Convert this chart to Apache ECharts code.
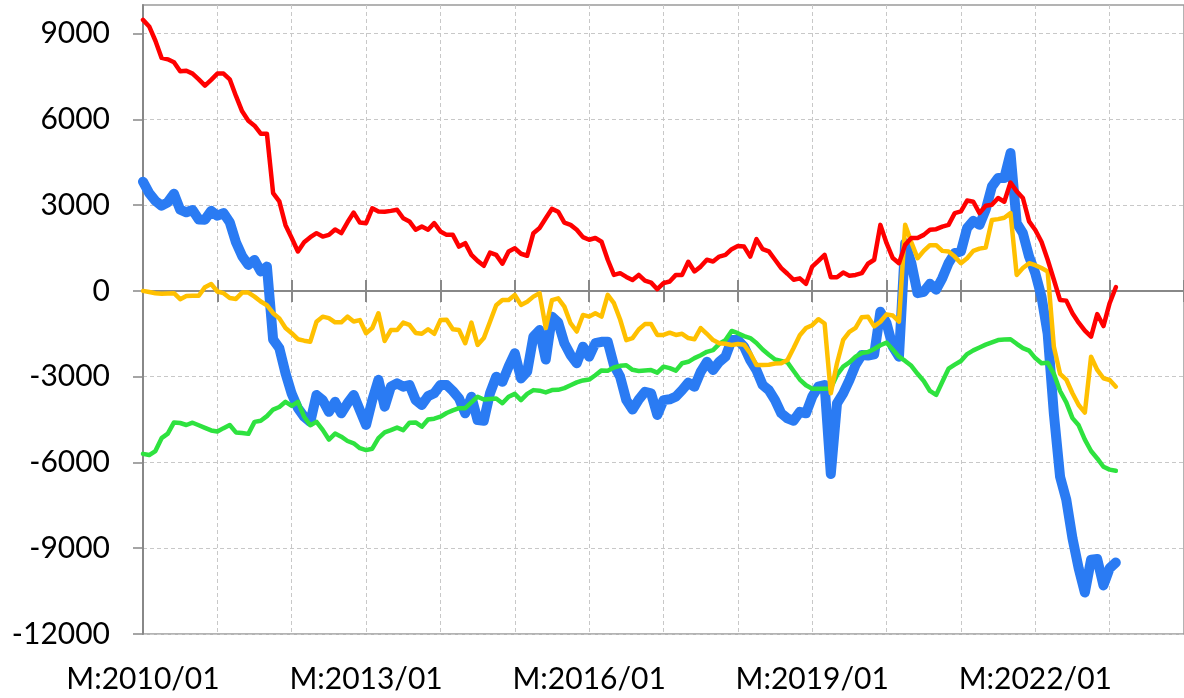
<!DOCTYPE html>
<html>
<head>
<meta charset="utf-8">
<script src="https://cdn.jsdelivr.net/npm/echarts@6/dist/echarts.min.js"></script>
<style>
  html, body { margin: 0; padding: 0; background: #fff; }
  #chart { width: 1184px; height: 698px; }
</style>
</head>
<body>
<div id="chart"></div>
<script>
// Monthly categories 2010/01 .. 2024/01
const startYear = 2010;
const endYear = 2024;
const months = [];
for (let y = startYear; y <= endYear; y++) {
  for (let m = 1; m <= 12; m++) {
    if (y === endYear && m > 1) break;
    months.push(y + '/' + String(m).padStart(2, '0'));
  }
}

// Value axis ticks
const yTicks = [-12000, -9000, -6000, -3000, 0, 3000, 6000, 9000];

// Series values, one per month from 2010/01
const redSeries = [
  9480,9250,8750,8150,8100,8000,7680,7700,7600,7400,
  7180,7380,7600,7600,7400,6820,6280,5950,5780,5500,
  5500,3420,3130,2300,1850,1380,1700,1880,2020,1900,
  1960,2150,2020,2400,2740,2390,2370,2890,2780,2770,
  2800,2840,2540,2430,2140,2250,2140,2370,2080,1960,
  1960,1550,1670,1260,1050,880,1340,1260,950,1380,
  1490,1300,1230,2020,2200,2540,2870,2770,2390,2310,
  2140,1880,1790,1850,1720,1090,560,620,490,380,
  560,360,290,60,270,330,560,560,1020,680,
  850,1090,1030,1200,1260,1460,1570,1550,1200,1810,
  1460,1380,1090,800,600,390,440,250,850,1050,
  1260,480,480,640,530,560,620,950,1090,2310,
  1670,1150,970,1610,1850,1850,1960,2140,2160,2250,
  2310,2720,2780,3160,3120,2720,2980,3010,3250,3120,
  3790,3480,3250,2430,2130,1720,1090,390,-320,-340,
  -780,-1110,-1390,-1600,-810,-1230,-430,130
];

const blueSeries = [
  3820,3420,3150,2980,3100,3400,2840,2750,2830,2500,
  2490,2800,2630,2720,2400,1700,1220,910,1080,680,
  850,-1700,-2000,-2880,-3600,-4100,-4400,-4580,-3640,-3820,
  -4230,-3880,-4280,-3930,-3640,-4170,-4690,-3820,-3110,-4050,
  -3350,-3230,-3350,-3290,-3820,-3990,-3680,-3580,-3290,-3290,
  -3500,-3760,-4280,-3700,-4520,-4540,-3580,-3000,-3180,-2650,
  -2180,-3060,-2820,-1600,-1370,-2400,-900,-1100,-1830,-2240,
  -2530,-1950,-2300,-1830,-1780,-1780,-2600,-3000,-3820,-4150,
  -3800,-3530,-3580,-4340,-3820,-3790,-3700,-3470,-3210,-3350,
  -2830,-2480,-2770,-2480,-2300,-1720,-1720,-1950,-2420,-2770,
  -3290,-3470,-3820,-4280,-4460,-4540,-4230,-4280,-3700,-3350,
  -3290,-6400,-3930,-3580,-3120,-2590,-2240,-2260,-2220,-730,
  -1130,-1950,-2300,1670,970,-80,-30,250,40,450,
  970,1320,1380,2200,2450,2310,2840,3650,3950,3950,
  4820,2370,2020,1200,620,-200,-1500,-4300,-6500,-7300,
  -8650,-9700,-10550,-9400,-9380,-10300,-9700,-9500
];

const greenSeries = [
  -5700,-5740,-5600,-5150,-4990,-4600,-4620,-4690,-4610,-4700,
  -4790,-4880,-4920,-4800,-4690,-4950,-4970,-5000,-4580,-4540,
  -4380,-4150,-4060,-3880,-4020,-3880,-4400,-4700,-4580,-4860,
  -5200,-4990,-5100,-5250,-5330,-5500,-5570,-5520,-5150,-4950,
  -4870,-4780,-4870,-4610,-4600,-4750,-4500,-4470,-4400,-4270,
  -4180,-4100,-4100,-3900,-3700,-3800,-3780,-3760,-3930,-3700,
  -3600,-3820,-3600,-3470,-3490,-3550,-3470,-3460,-3400,-3300,
  -3200,-3130,-3100,-2950,-2780,-2790,-2680,-2620,-2600,-2760,
  -2800,-2780,-2770,-2860,-2650,-2700,-2790,-2530,-2480,-2350,
  -2250,-2130,-2070,-1850,-1720,-1400,-1480,-1580,-1650,-1820,
  -2050,-2230,-2400,-2450,-2500,-2800,-3100,-3300,-3420,-3420,
  -3420,-3410,-2940,-2650,-2500,-2300,-2170,-2140,-2030,-1900,
  -1810,-2050,-2300,-2450,-2620,-2900,-3150,-3500,-3640,-3180,
  -2720,-2580,-2450,-2210,-2080,-1980,-1880,-1800,-1720,-1700,
  -1690,-1850,-2000,-2090,-2350,-2530,-2510,-2900,-3500,-3900,
  -4450,-4700,-5200,-5600,-5860,-6150,-6250,-6290
];

const yellowSeries = [
  0,-40,-80,-100,-90,-80,-290,-180,-170,-170,
  130,240,-20,-80,-250,-280,-60,-60,-200,-370,
  -500,-780,-960,-1300,-1480,-1690,-1740,-1775,-1080,-900,
  -950,-1100,-1100,-900,-1070,-1020,-1480,-1300,-780,-1750,
  -1370,-1370,-1110,-1190,-1470,-1500,-1340,-1500,-1020,-1010,
  -1340,-1370,-1830,-1110,-1890,-1650,-1080,-500,-320,-320,
  -140,-490,-380,-200,-80,-1300,-320,-260,-550,-1130,
  -1420,-840,-900,-780,-900,-140,-430,-1000,-1720,-1650,
  -1350,-1160,-1160,-1540,-1540,-1460,-1540,-1500,-1650,-1690,
  -1300,-1500,-1720,-1830,-1850,-1890,-1860,-1880,-2180,-2590,
  -2590,-2580,-2540,-2530,-2420,-2000,-1550,-1300,-1200,-990,
  -1140,-3580,-2530,-1715,-1430,-1290,-920,-900,-1240,-1080,
  -820,-860,-1075,2310,1700,1145,1400,1600,1600,1400,
  1375,1200,970,1145,1400,1480,1520,2480,2510,2560,
  2720,560,800,970,900,800,680,-1950,-2900,-3100,
  -3580,-3990,-4255,-2300,-2765,-3055,-3115,-3350
];

const axisGray = '#888888';
const gridGray = '#c8c8c8';
const fontFamily = 'Lato, "Liberation Sans", sans-serif';

function lineSeries(data, color, width) {
  return {
    type: 'line',
    data: data,
    xAxisIndex: 0,
    yAxisIndex: 0,
    symbol: 'none',
    smooth: false,
    lineStyle: { color: color, width: width, cap: 'round', join: 'round' },
    emphasis: { disabled: true }
  };
}

const chart = echarts.init(document.getElementById('chart'), null, { renderer: 'canvas' });
chart.setOption({
  animation: false,
  backgroundColor: '#ffffff',
  grid: {
    left: 143, right: -1, top: 5, bottom: 64,
    show: true, borderColor: '#9a9a9a', borderWidth: 1.5
  },
  xAxis: [
    {
      // bottom axis: date labels and yearly grid lines
      type: 'category', data: months, boundaryGap: false, position: 'bottom',
      axisLine: { show: false, onZero: false },
      axisTick: { show: false },
      axisLabel: {
        interval: 35, margin: 30, color: '#000', fontSize: 30, fontFamily: fontFamily,
        formatter: v => 'M:' + v
      },
      splitLine: {
        show: true, interval: 11,
        lineStyle: { color: gridGray, width: 1, type: [4, 3] }
      }
    },
    {
      // zero line with downward yearly ticks
      type: 'category', data: months, boundaryGap: false, position: 'bottom',
      axisLine: { show: true, onZero: true, onZeroAxisIndex: 0, lineStyle: { color: axisGray, width: 2 } },
      axisTick: { show: true, interval: 11, length: 11, lineStyle: { color: axisGray, width: 2 } },
      axisLabel: { show: false },
      splitLine: { show: false }
    },
    {
      // upward half of the yearly ticks on the zero line
      type: 'category', data: months, boundaryGap: false, position: 'top',
      axisLine: { show: false, onZero: true, onZeroAxisIndex: 0 },
      axisTick: { show: true, interval: 11, length: 11, lineStyle: { color: axisGray, width: 2 } },
      axisLabel: { show: false },
      splitLine: { show: false }
    }
  ],
  yAxis: {
    type: 'value', min: -12000, max: 10000, interval: 3000,
    axisLine: { show: true, onZero: false, lineStyle: { color: axisGray, width: 2 } },
    axisTick: { show: true, length: 10, customValues: yTicks, lineStyle: { color: axisGray, width: 1.5 } },
    axisLabel: {
      customValues: yTicks, margin: 33, color: '#000', fontSize: 30, fontFamily: fontFamily,
      formatter: v => String(v)
    },
    splitLine: { show: true, lineStyle: { color: gridGray, width: 1, type: [4, 3] } }
  },
  series: [
    lineSeries(blueSeries, '#2a7bf3', 10),
    lineSeries(greenSeries, '#2ee23f', 4.5),
    lineSeries(yellowSeries, '#ffc000', 4.5),
    lineSeries(redSeries, '#ff0000', 4.5)
  ]
});
</script>
</body>
</html>
